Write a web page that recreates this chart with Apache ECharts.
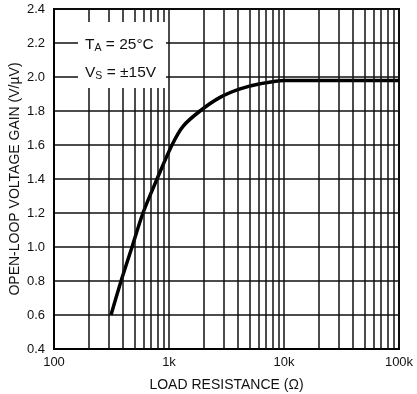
<!DOCTYPE html>
<html>
<head>
<meta charset="utf-8">
<script src="https://cdn.jsdelivr.net/npm/echarts@6/dist/echarts.min.js"></script>
<style>
  html, body { margin: 0; padding: 0; background: #fff; }
  #chart { width: 417px; height: 394px; }
</style>
</head>
<body>
<div id="chart"></div>
<script>
// load resistance (ohm) and open-loop gain (V/uV)
const resistance = [313, 383, 477, 594, 787, 1062, 1324, 1860, 2780, 4150, 6200, 10000, 30000, 100000];
const gain = [0.6, 0.8, 1.0, 1.2, 1.4, 1.6, 1.71, 1.8, 1.88, 1.93, 1.96, 1.98, 1.98, 1.98];

// log grid lines between decades
const minorLines = [200, 300, 400, 500, 600, 700, 800, 900,
  2000, 3000, 4000, 5000, 6000, 7000, 8000, 9000,
  20000, 30000, 40000, 50000, 60000, 70000, 80000, 90000];
const xLabels = { 100: "100", 1000: "1k", 10000: "10k", 100000: "100k" };

const font = "Liberation Sans, Arial, sans-serif";
const chart = echarts.init(document.getElementById("chart"));

const option = {
  animation: false,
  grid: {
    left: 54, right: 18, top: 9, bottom: 45,
    show: true, borderColor: "#000", borderWidth: 2,
    containLabel: false, outerBoundsMode: "none",
  },
  xAxis: {
    type: "log",
    logBase: 10,
    min: 100,
    max: 100000,
    axisLine: { show: true, lineStyle: { color: "#000", width: 2 } },
    axisTick: { show: false },
    splitLine: { show: true, lineStyle: { color: "#111", width: 1.5 } },
    axisLabel: {
      color: "#111", fontFamily: font, fontSize: 13, margin: 7,
      formatter: (v) => xLabels[Math.round(v)] || "",
    },
    name: "LOAD RESISTANCE (\u03a9)",
    nameLocation: "middle",
    nameGap: 29,
    nameMoveOverlap: false,
    nameTextStyle: { color: "#111", fontFamily: font, fontSize: 14, verticalAlign: "top" },
  },
  yAxis: {
    type: "value",
    min: 0.4,
    max: 2.4,
    interval: 0.2,
    axisLine: { show: true, lineStyle: { color: "#000", width: 2 } },
    axisTick: { show: false },
    splitLine: { show: true, lineStyle: { color: "#111", width: 1.5 } },
    axisLabel: {
      color: "#111", fontFamily: font, fontSize: 13, margin: 9,
      formatter: (v) => v.toFixed(1),
    },
    name: "OPEN-LOOP VOLTAGE GAIN (V/\u00b5V)",
    nameLocation: "middle",
    nameGap: 32,
    nameMoveOverlap: false,
    nameTextStyle: { color: "#111", fontFamily: font, fontSize: 14 },
  },
  graphic: [
    {
      type: "rect", z: 100,
      shape: { x: 78, y: 22, width: 88, height: 66 },
      style: { fill: "#fff" },
    },
    {
      type: "text", z: 101, left: 85, top: 35,
      style: {
        text: "{m|T}{s|A}{m| = 25\u00b0C}\n{m|V}{s|S}{m| = \u00b115V}",
        rich: {
          m: { fontSize: 15.5, fontFamily: font, fill: "#111", lineHeight: 28 },
          s: { fontSize: 10.5, fontFamily: font, fill: "#111", lineHeight: 28, padding: [8, 0, 0, 0] },
        },
      },
    },
  ],
  series: [
    {
      type: "line",
      data: resistance.map((r, i) => [r, gain[i]]),
      showSymbol: false,
      smooth: 0.3,
      lineStyle: { color: "#000", width: 3.5 },
      markLine: {
        silent: true,
        symbol: "none",
        label: { show: false },
        lineStyle: { color: "#111", width: 1.5, type: "solid" },
        data: minorLines.map((v) => ({ xAxis: v })),
      },
    },
  ],
};
chart.setOption(option);
</script>
</body>
</html>
